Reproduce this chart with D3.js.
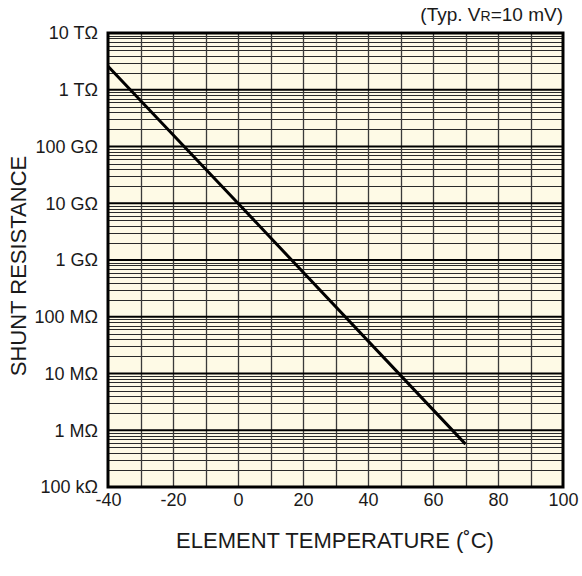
<!DOCTYPE html>
<html><head><meta charset="utf-8">
<script src="https://cdn.jsdelivr.net/npm/d3@7"></script>
<style>body{margin:0;background:#fff}svg{display:block}text{font-family:"Liberation Sans",Arial,sans-serif;fill:#1a1a1a}</style>
</head><body>
<script>
const temps = [-40, 0, 70];
const resistance = [2.6e12, 1.0e10, 5.7e5];
const xTicks = [-40, -20, 0, 20, 40, 60, 80, 100];
const yTicks = [1e5, 1e6, 1e7, 1e8, 1e9, 1e10, 1e11, 1e12, 1e13];
const yTickLabels = ["100 kΩ", "1 MΩ", "10 MΩ", "100 MΩ", "1 GΩ", "10 GΩ", "100 GΩ", "1 TΩ", "10 TΩ"];

const W = 582, H = 576;
const m = {left: 108, right: 19, top: 33, bottom: 89};
const svg = d3.select("body").append("svg").attr("width", W).attr("height", H);
const x = d3.scaleLinear().domain([-40, 100]).range([m.left, W - m.right]);
const y = d3.scaleLog().domain([1e5, 1e13]).range([H - m.bottom, m.top]);

svg.append("rect").attr("x", x(-40)).attr("y", y(1e13))
  .attr("width", x(100) - x(-40)).attr("height", y(1e5) - y(1e13)).attr("fill", "#fefae6");

// minor horizontal grid
const minor = [];
for (let e = 5; e < 13; e++) for (let k = 2; k <= 9; k++) minor.push(k * Math.pow(10, e));
const g = svg.append("g");
g.selectAll("line.hm").data(minor).join("line")
  .attr("x1", x(-40)).attr("x2", x(100))
  .attr("y1", d => Math.round(y(d)) + 0.5).attr("y2", d => Math.round(y(d)) + 0.5)
  .attr("stroke", "#2a2a2a").attr("stroke-width", 1);
// vertical grid
const vg = d3.range(-30, 100, 10);
g.selectAll("line.v").data(vg).join("line")
  .attr("x1", d => Math.round(x(d)) + 0.5).attr("x2", d => Math.round(x(d)) + 0.5)
  .attr("y1", y(1e13)).attr("y2", y(1e5))
  .attr("stroke", "#3a3a3a").attr("stroke-width", 1.3);
// decade lines
g.selectAll("line.hd").data(yTicks.slice(1, -1)).join("line")
  .attr("x1", x(-40)).attr("x2", x(100))
  .attr("y1", d => y(d)).attr("y2", d => y(d))
  .attr("stroke", "#000").attr("stroke-width", 2);

// frame
svg.append("rect").attr("x", x(-40)).attr("y", y(1e13))
  .attr("width", x(100) - x(-40)).attr("height", y(1e5) - y(1e13))
  .attr("fill", "none").attr("stroke", "#000").attr("stroke-width", 3);

// data line
const pts = temps.map((t, i) => [t, resistance[i]]);
svg.append("path").datum(pts)
  .attr("d", d3.line().x(d => x(d[0])).y(d => y(d[1])))
  .attr("fill", "none").attr("stroke", "#000").attr("stroke-width", 3);

// axes
const yAxis = svg.append("g").attr("transform", `translate(${m.left - 10},0)`)
  .call(d3.axisLeft(y).tickValues(yTicks).tickFormat((d, i) => yTickLabels[i]).tickSize(0).tickPadding(0));
yAxis.select(".domain").remove();
yAxis.selectAll("text").attr("font-size", 18).attr("fill", "#1a1a1a").attr("font-family", "Liberation Sans, Arial, sans-serif");

const xAxis = svg.append("g").attr("transform", `translate(0,${H - m.bottom + 2})`)
  .call(d3.axisBottom(x).tickValues(xTicks).tickFormat(d => String(d)).tickSize(0).tickPadding(4));
xAxis.select(".domain").remove();
xAxis.selectAll("text").attr("font-size", 18).attr("fill", "#1a1a1a").attr("font-family", "Liberation Sans, Arial, sans-serif");

svg.append("text").attr("x", 335).attr("y", 548).attr("text-anchor", "middle")
  .attr("font-size", 22).text("ELEMENT TEMPERATURE (˚C)");
svg.append("text").attr("transform", "translate(26,266) rotate(-90)").attr("text-anchor", "middle")
  .attr("font-size", 22).text("SHUNT RESISTANCE");

const t = svg.append("text").attr("x", W - 19).attr("y", 21).attr("text-anchor", "end").attr("font-size", 19);
t.append("tspan").text("(Typ. V");
t.append("tspan").attr("font-size", 14).text("R");
t.append("tspan").text("=10 mV)");
</script>
</body></html>
